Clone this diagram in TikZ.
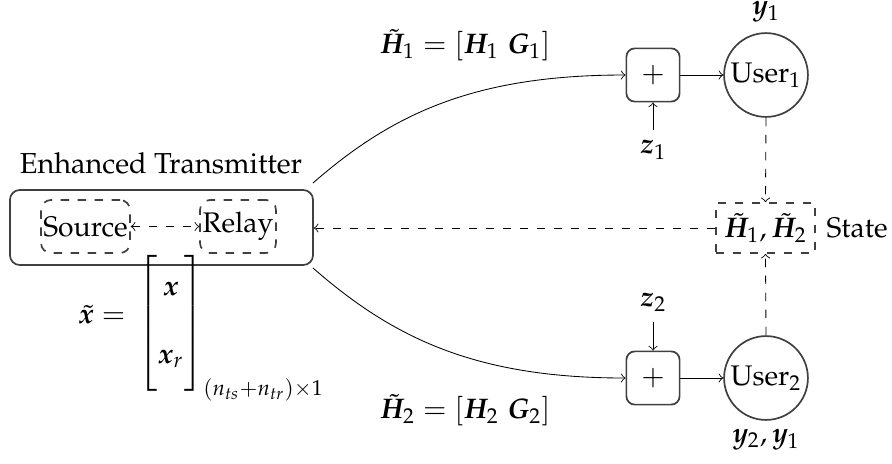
\documentclass[tikz,border=0pt]{standalone}
\usepackage[T1]{fontenc}
\usepackage{mathpazo}
\usepackage{amsmath}
\usepackage{bm}
\usetikzlibrary{calc}
\tikzset{
  tbox/.style={draw=black!75, line width=0.6pt, rounded corners=3.5pt, inner sep=0pt},
  dbox/.style={draw=black!75, line width=0.6pt, dashed, rounded corners=3.5pt, inner sep=0pt},
  sbox/.style={draw=black!75, line width=0.6pt, dashed, inner sep=0pt},
  circ/.style={draw=black!75, line width=0.6pt, circle, minimum size=29.6pt, inner sep=0pt},
  addbox/.style={draw=black!75, line width=0.6pt, rounded corners=3pt, minimum size=18.8pt, inner sep=0pt},
  arr/.style={->, line width=0.3pt},
  darr/.style={line width=0.3pt, dashed},
  lbl/.style={inner sep=0pt}
}
\begin{document}
\begin{tikzpicture}[x=0.353pt,y=-0.353pt]
\useasboundingbox (0,0) rectangle (892,463);
% transmitter
\node[tbox, minimum width=107pt, minimum height=26.5pt] (tx) at (161.5,227.5) {};
\node[lbl, scale=1.02] (txl) at (161,163) {Enhanced Transmitter};
\node[dbox, minimum width=31.4pt, minimum height=18.7pt] (src) at (85.5,226.5) {Source};
\node[dbox, minimum width=26.8pt, minimum height=18.7pt] (rel) at (238,226.5) {Relay};
\draw[darr, <->] (src) -- (rel);
% state
\node[sbox, minimum width=35pt, minimum height=17.6pt] (st) at (765.5,228) {$\tilde{\bm H}_1, \tilde{\bm H}_2$};
\node[lbl, anchor=west] (stl) at (826,228) {State};
\draw[darr, ->] (st.west) -- (st.west -| tx.east);
% user 1 branch
\node[circ] (u1) at (766,75) {User$_1$};
\node[addbox] (a1) at (653,75) {$+$};
\draw[arr] (a1) -- (u1);
\node[lbl] (z1) at (653,150) {$\bm z_1$};
\draw[arr] ($(z1.north)+(0,-10)$) -- (a1.south);
\node[lbl] (y1) at (766,12) {$\bm y_1$};
\node[lbl] (h1) at (465,45) {$\tilde{\bm H}_1 = [\bm H_1\; \bm G_1]$};
\coordinate (c1) at (313,183);
\draw[arr] (c1) .. controls +(80,-70) and +(-150,0) .. (a1.west);
\draw[darr, ->] (u1.south) -- (st.north);
% user 2 branch
\node[circ] (u2) at (766,378) {User$_2$};
\node[addbox] (a2) at (653,378) {$+$};
\draw[arr] (a2) -- (u2);
\node[lbl] (z2) at (653,302) {$\bm z_2$};
\draw[arr] ($(z2.south)+(0,10)$) -- (a2.north);
\node[lbl] (y2) at (766,440) {$\bm y_2, \bm y_1$};
\node[lbl] (h2) at (465,410) {$\tilde{\bm H}_2 = [\bm H_2\; \bm G_2]$};
\coordinate (c2) at (313,268);
\draw[arr] (c2) .. controls +(80,70) and +(-150,0) .. (a2.west);
\draw[darr, ->] (u2.north) -- (st.south);
% signal vector
\node[lbl] (xl) at (102,315) {$\tilde{\bm x} =$};
\node[lbl, anchor=north west] (xm) at (138,251) {$\left[\begin{array}{@{\hspace{0pt}}c@{\hspace{0pt}}}\rule[-11.5pt]{0pt}{27pt}\bm x\\ \rule[-11pt]{0pt}{23.5pt}\bm x_r\end{array}\right]_{(n_{ts}+n_{tr})\times 1}$};
\end{tikzpicture}
\end{document}
